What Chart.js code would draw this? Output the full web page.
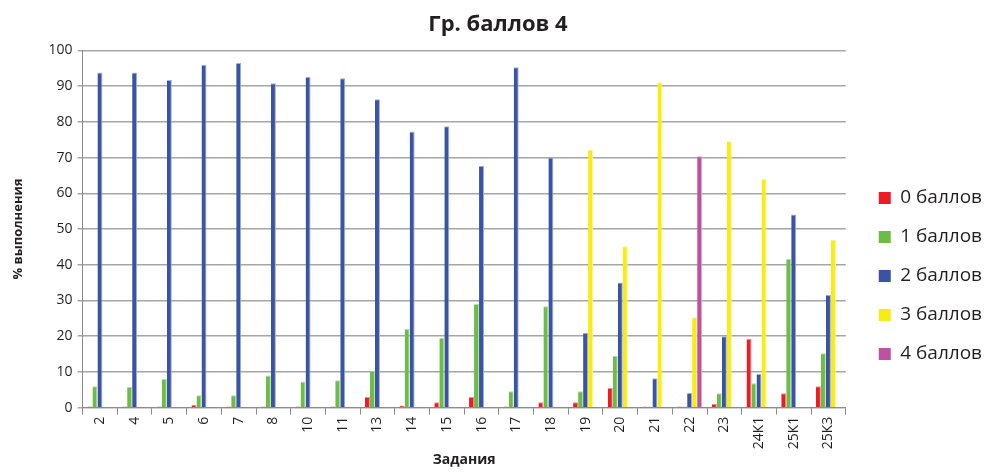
<!DOCTYPE html>
<html>
<head>
<meta charset="utf-8">
<script src="https://cdn.jsdelivr.net/npm/chart.js@4.4.1/dist/chart.umd.min.js"></script>
<style>
  html, body { margin: 0; padding: 0; background: #fff; }
  #wrap { width: 986px; height: 472px; position: relative; }
</style>
</head>
<body>
<div id="wrap"><canvas id="chart"></canvas></div>
<script>
const tasks = ["2", "4", "5", "6", "7", "8", "10", "11", "13", "14", "15", "16", "17", "18", "19", "20", "21", "22", "23", "24К1", "25К1", "25К3"];

const score0 = [0.3, 0.3, 0.3, 0.8, 0.3, 0.3, 0.3, 0.3, 3.0, 0.6, 1.5, 3.0, 0.3, 1.5, 1.5, 5.5, 0.3, 0.3, 1.0, 19.3, 4.0, 6.0];
const score1 = [6.0, 5.8, 8.0, 3.5, 3.5, 9.0, 7.3, 7.7, 10.3, 22.0, 19.6, 29.0, 4.6, 28.4, 4.6, 14.5, 0.3, 0.3, 4.0, 6.8, 41.6, 15.2];
const score2 = [93.8, 93.8, 91.7, 96.0, 96.5, 90.8, 92.6, 92.2, 86.3, 77.3, 78.8, 67.7, 95.3, 70.0, 21.0, 35.0, 8.2, 4.1, 20.0, 9.4, 54.1, 31.6];
const score3 = [0, 0, 0, 0, 0, 0, 0, 0, 0, 0, 0, 0, 0, 0, 72.2, 45.2, 91.1, 25.3, 74.6, 64.0, 0, 47.0];
const score4 = [0, 0, 0, 0, 0, 0, 0, 0, 0, 0, 0, 0, 0, 0, 0, 0, 0, 70.4, 0, 0, 0, 0];

const seriesNames = ["0 баллов", "1 баллов", "2 баллов", "3 баллов", "4 баллов"];
const yTicks = [0, 10, 20, 30, 40, 50, 60, 70, 80, 90, 100];

const fontFamily = "'Open Sans', 'Noto Sans', sans-serif";

function series(label, data, fill, edge) {
  return {
    label: label,
    data: data,
    backgroundColor: fill,
    borderColor: edge,
    borderWidth: { top: 1, left: 0, right: 1, bottom: 0 },
    categoryPercentage: 0.72,
    barPercentage: 1.0
  };
}

// make the legend column a bit wider and push it down, like the Excel original
const legendShift = {
  id: "legendShift",
  afterInit(chart) {
    const lg = chart.legend;
    if (!lg) return;
    const fit = lg.fit.bind(lg);
    lg.fit = function () {
      fit();
      this.width += 7;
    };
  },
  afterLayout(chart) {
    const lg = chart.legend;
    if (!lg) return;
    lg.left += 13;
    lg.top += 38;
    lg.bottom += 38;
  }
};

new Chart(document.getElementById("chart"), {
  type: "bar",
  data: {
    labels: tasks,
    datasets: [
      series(seriesNames[0], score0, "#ED1C24", "#F4888C"),
      series(seriesNames[1], score1, "#6CBD45", "#B5DDA2"),
      series(seriesNames[2], score2, "#3A53A4", "#A3B0D6"),
      series(seriesNames[3], score3, "#F7EC13", "#FBF48A"),
      series(seriesNames[4], score4, "#BF52A0", "#E0A8D0")
    ]
  },
  plugins: [legendShift],
  options: {
    responsive: true,
    maintainAspectRatio: false,
    animation: false,
    layout: { padding: { left: 10, right: 0, top: 8, bottom: 4 } },
    plugins: {
      title: {
        display: true,
        text: "Гр. баллов 4",
        color: "#231F20",
        font: { family: fontFamily, size: 22, weight: "bold" },
        padding: { top: 4, bottom: 12 }
      },
      legend: {
        position: "right",
        align: "center",
        labels: {
          color: "#231F20",
          font: { family: fontFamily, size: 19 },
          boxWidth: 12,
          boxHeight: 12,
          padding: 20,
          generateLabels(chart) {
            return chart.data.datasets.map((ds, i) => ({
              text: ds.label,
              fillStyle: ds.backgroundColor,
              strokeStyle: ds.backgroundColor,
              lineWidth: 0,
              hidden: false,
              datasetIndex: i,
              fontColor: "#231F20"
            }));
          }
        }
      },
      tooltip: { enabled: false }
    },
    scales: {
      x: {
        offset: true,
        grid: {
          offset: true,
          drawOnChartArea: false,
          drawTicks: true,
          tickLength: 7,
          color: "#8C8C8C"
        },
        border: { color: "#8C8C8C", width: 1 },
        ticks: {
          color: "#231F20",
          font: { family: fontFamily, size: 14 },
          minRotation: 90,
          maxRotation: 90,
          padding: 2,
          autoSkip: false
        },
        title: {
          display: true,
          text: "Задания",
          color: "#231F20",
          font: { family: fontFamily, size: 14, weight: "bold" },
          padding: { top: 0, bottom: 0 }
        }
      },
      y: {
        min: 0,
        max: 100,
        afterBuildTicks(axis) {
          axis.ticks = yTicks.map(v => ({ value: v }));
        },
        grid: {
          color: "#A6A6A6",
          lineWidth: 1.5,
          drawTicks: true,
          tickLength: 5
        },
        border: { color: "#8C8C8C", width: 1 },
        ticks: {
          color: "#231F20",
          font: { family: fontFamily, size: 14 },
          padding: 5
        },
        title: {
          display: true,
          text: "% выполнения",
          color: "#231F20",
          font: { family: fontFamily, size: 13, weight: "bold" },
          padding: { top: 0, bottom: 18 }
        }
      }
    }
  }
});
</script>
</body>
</html>
